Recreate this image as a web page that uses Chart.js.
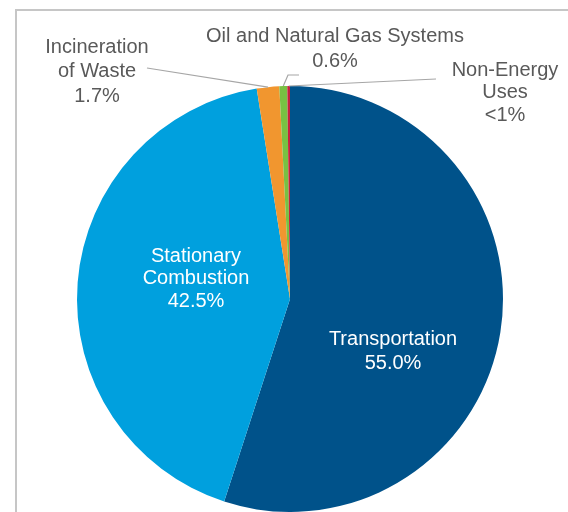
<!DOCTYPE html>
<html>
<head>
<meta charset="utf-8">
<script src="https://cdn.jsdelivr.net/npm/chart.js@4/dist/chart.umd.min.js"></script>
<style>
  html, body { margin: 0; padding: 0; background: #fff; }
  #wrap { width: 568px; height: 512px; }
</style>
</head>
<body>
<div id="wrap"><canvas id="myChart" width="568" height="512"></canvas></div>
<script>
const categories = ['Transportation', 'Stationary Combustion', 'Incineration of Waste', 'Oil and Natural Gas Systems', 'Non-Energy Uses']
const shares = [55.0, 42.5, 1.7, 0.6, 0.2]
const shareLabels = ['55.0%', '42.5%', '1.7%', '0.6%', '<1%']
const colors = ['#00528A', '#00A0DE', '#F1962F', '#78C143', '#C8203F']

// label text lines, where they sit, and whether a leader line is drawn
const labelLines = [
    ['Transportation', shareLabels[0]],
    ['Stationary', 'Combustion', shareLabels[1]],
    ['Incineration', 'of Waste', shareLabels[2]],
    ['Oil and Natural Gas Systems', shareLabels[3]],
    ['Non-Energy', 'Uses', shareLabels[4]]
]
const labelSpots = [
    { x: 393, y: 339, lh: 24, color: '#ffffff' },
    { x: 196, y: 256, lh: 22.5, color: '#ffffff' },
    { x: 97, y: 47, lh: 24.5, color: '#595959', leader: [[147, 68]] },
    { x: 335, y: 36, lh: 25, color: '#595959', leader: [[288, 75], [299, 75]] },
    { x: 505, y: 70, lh: 22.5, color: '#595959', leader: [[436, 79]] }
]

const framePlugin = {
    id: 'frame',
    beforeDraw(chart) {
        const ctx = chart.ctx
        ctx.save()
        ctx.strokeStyle = '#C6C6C6'
        ctx.lineWidth = 2
        ctx.beginPath()
        ctx.moveTo(16, 512)
        ctx.lineTo(16, 10)
        ctx.lineTo(570, 10)
        ctx.stroke()
        ctx.restore()
    }
}

const labelPlugin = {
    id: 'sliceLabels',
    afterDraw(chart) {
        const ctx = chart.ctx
        const arcs = chart.getDatasetMeta(0).data
        ctx.save()
        ctx.font = '20px "Liberation Sans", Arial, sans-serif'
        ctx.textAlign = 'center'
        ctx.textBaseline = 'middle'
        labelSpots.forEach((spot, i) => {
            if (spot.leader) {
                const arc = arcs[i]
                const mid = (arc.startAngle + arc.endAngle) / 2
                const ax = arc.x + Math.cos(mid) * arc.outerRadius
                const ay = arc.y + Math.sin(mid) * arc.outerRadius
                ctx.strokeStyle = '#A6A6A6'
                ctx.lineWidth = 1.2
                ctx.beginPath()
                ctx.moveTo(ax, ay)
                spot.leader.forEach(p => ctx.lineTo(p[0], p[1]))
                ctx.stroke()
            }
            ctx.fillStyle = spot.color
            labelLines[i].forEach((line, j) => {
                ctx.fillText(line, spot.x, spot.y + j * spot.lh)
            })
        })
        ctx.restore()
    }
}

new Chart(document.getElementById('myChart').getContext('2d'), {
    type: 'pie',
    data: {
        labels: categories,
        datasets: [
            {
                data: shares,
                backgroundColor: colors,
                borderWidth: 0
            }
        ]
    },
    options: {
        responsive: false,
        animation: false,
        layout: {
            padding: { left: 77, right: 65, top: 86, bottom: 0 }
        },
        plugins: {
            legend: { display: false },
            tooltip: { enabled: false }
        }
    },
    plugins: [framePlugin, labelPlugin]
})
</script>
</body>
</html>
